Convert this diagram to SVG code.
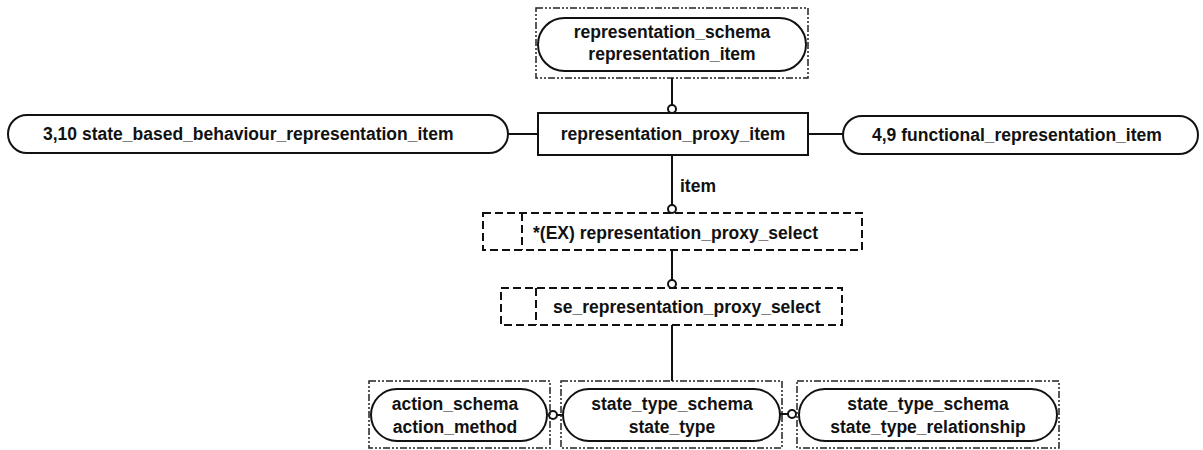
<svg xmlns="http://www.w3.org/2000/svg" width="1203" height="450" viewBox="0 0 1203 450">
<style>
text{font-family:"Liberation Sans",Arial,sans-serif;font-weight:bold;font-size:17.5px;fill:#111}
.c{text-anchor:middle}
.pill,.rect{fill:none;stroke:#111;stroke-width:2}
.schema{fill:none;stroke:#222;stroke-width:1.5;stroke-dasharray:7,2,2,2,2,2}
.sel{fill:none;stroke:#111;stroke-width:2;stroke-dasharray:8,4}
.ln{stroke:#111;stroke-width:2;fill:none}
.dot{fill:#fff;stroke:#111;stroke-width:2}
</style>
<rect width="1203" height="450" fill="#fff"/>
<g id="connectors">
<line class="ln" x1="672" y1="78" x2="672" y2="105"/>
<circle class="dot" cx="672" cy="109" r="4"/>
<line class="ln" x1="508" y1="134" x2="538" y2="134"/>
<line class="ln" x1="808" y1="134" x2="843" y2="134"/>
<line class="ln" x1="672" y1="155" x2="672" y2="205"/>
<circle class="dot" cx="672" cy="209" r="4"/>
<text x="680" y="192">item</text>
<line class="ln" x1="672" y1="250" x2="672" y2="280"/>
<circle class="dot" cx="672" cy="284" r="4"/>
<line class="ln" x1="672" y1="325" x2="672" y2="381"/>
<line class="ln" x1="557" y1="415" x2="563" y2="415"/>
<circle class="dot" cx="553" cy="415" r="4"/>
<line class="ln" x1="780" y1="414" x2="788" y2="414"/>
<circle class="dot" cx="792" cy="414" r="4"/>
</g>
<g id="representation_item">
<rect class="schema" x="536" y="8" width="272" height="70"/>
<rect class="pill" x="538" y="18" width="268" height="53" rx="26.5"/>
<text class="c" x="672" y="38">representation_schema</text>
<text class="c" x="672" y="60">representation_item</text>
</g>
<g id="representation_proxy_item">
<rect class="rect" x="538" y="113" width="270" height="42"/>
<text class="c" x="673" y="140">representation_proxy_item</text>
</g>
<g id="state_based_behaviour_representation_item">
<rect class="pill" x="8" y="115" width="500" height="38" rx="19"/>
<text x="43" y="140">3,10 state_based_behaviour_representation_item</text>
</g>
<g id="functional_representation_item">
<rect class="pill" x="843" y="116" width="355" height="38" rx="19"/>
<text x="872" y="141">4,9 functional_representation_item</text>
</g>
<g id="representation_proxy_select">
<rect class="sel" x="483" y="213" width="379" height="37"/>
<line class="sel" x1="522" y1="213" x2="522" y2="250"/>
<text x="533" y="239">*(EX) representation_proxy_select</text>
</g>
<g id="se_representation_proxy_select">
<rect class="sel" x="501" y="288" width="341" height="37"/>
<line class="sel" x1="536" y1="288" x2="536" y2="325"/>
<text x="553" y="313">se_representation_proxy_select</text>
</g>
<g id="action_method">
<rect class="schema" x="369" y="381" width="181" height="67"/>
<rect class="pill" x="371" y="389" width="176" height="52" rx="26"/>
<text class="c" x="455" y="410">action_schema</text>
<text class="c" x="455" y="433">action_method</text>
</g>
<g id="state_type">
<rect class="schema" x="561" y="381" width="221" height="67"/>
<rect class="pill" x="563" y="389" width="217" height="52" rx="26"/>
<text class="c" x="672" y="410">state_type_schema</text>
<text class="c" x="672" y="433">state_type</text>
</g>
<g id="state_type_relationship">
<rect class="schema" x="797" y="381" width="262" height="67"/>
<rect class="pill" x="799" y="389" width="258" height="52" rx="26"/>
<text class="c" x="928" y="410">state_type_schema</text>
<text class="c" x="928" y="433">state_type_relationship</text>
</g>
</svg>
